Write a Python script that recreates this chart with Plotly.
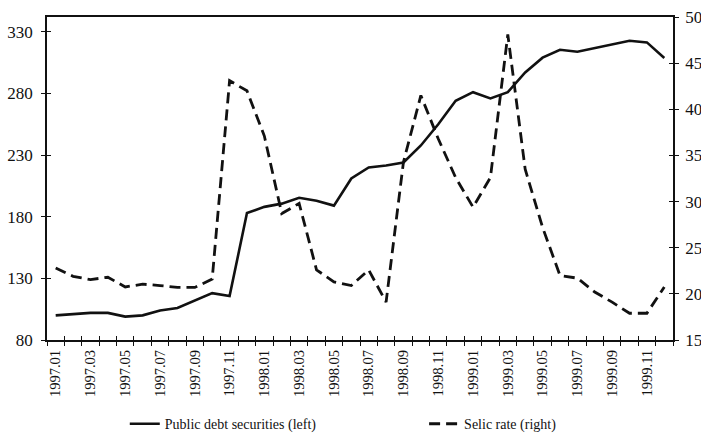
import plotly.graph_objects as go

months = [
    "1997.01", "1997.02", "1997.03", "1997.04", "1997.05", "1997.06",
    "1997.07", "1997.08", "1997.09", "1997.10", "1997.11", "1997.12",
    "1998.01", "1998.02", "1998.03", "1998.04", "1998.05", "1998.06",
    "1998.07", "1998.08", "1998.09", "1998.10", "1998.11", "1998.12",
    "1999.01", "1999.02", "1999.03", "1999.04", "1999.05", "1999.06",
    "1999.07", "1999.08", "1999.09", "1999.10", "1999.11", "1999.12",
]

public_debt = [
    100, 101, 102, 102, 99, 100, 104, 106, 112, 118, 115.6, 183,
    188, 190.6, 195.4, 193, 189, 211, 220, 221.6, 224, 237.8, 255, 274,
    281, 276, 281, 297, 309, 315.4, 313.8, 316.8, 319.5, 322.7, 321.4, 308.7,
]

selic_rate = [
    22.8, 21.9, 21.55, 21.8, 20.75, 21.05, 20.9, 20.7, 20.7, 21.6, 43.1, 42.0,
    37.1, 28.7, 29.8, 22.6, 21.3, 20.9, 22.6, 19.1, 34.3, 41.5, 36.8, 32.6,
    29.4, 32.6, 48.1, 33.5, 27.2, 22.0, 21.7, 20.2, 19.1, 17.9, 17.9, 20.75,
]

left_ticks = [80, 130, 180, 230, 280, 330]
right_ticks = [15, 20, 25, 30, 35, 40, 45, 50]

xpos = list(range(len(months)))
boundaries = [i - 0.5 for i in range(len(months) + 1)]
label_text = [m if i % 2 == 0 else "" for i, m in enumerate(months)]

ink = "#111111"
serif = "Liberation Serif"

fig = go.Figure()
fig.add_trace(go.Scatter(
    x=xpos, y=public_debt, mode="lines", name="Public debt securities (left)",
    line=dict(color=ink, width=2.6), xaxis="x", yaxis="y", legend="legend",
))
fig.add_trace(go.Scatter(
    x=xpos, y=selic_rate, mode="lines", name="Selic rate (right)",
    line=dict(color=ink, width=2.8, dash="11px,6px"), xaxis="x", yaxis="y2",
    legend="legend2",
))

# invisible helper traces so that the overlay tick axes get drawn
for xa, ya, yv in [("x2", "y", public_debt), ("x3", "y", public_debt),
                   ("x", "y3", public_debt), ("x", "y4", selic_rate)]:
    fig.add_trace(go.Scatter(x=xpos, y=yv, mode="lines", xaxis=xa, yaxis=ya,
                             line=dict(color="rgba(0,0,0,0)", width=0),
                             showlegend=False, hoverinfo="skip"))

xr = [-0.5, len(months) - 0.5]
common_axis = dict(showgrid=False, zeroline=False, tickcolor=ink, tickwidth=1.2,
                   linecolor=ink, automargin=False)

legend_common = dict(orientation="h", xref="container", yref="container",
                     xanchor="left", yanchor="middle", y=0.036,
                     font=dict(family=serif, size=14, color=ink),
                     bgcolor="rgba(0,0,0,0)")

fig.update_layout(
    width=701, height=440,
    margin=dict(l=47, r=28, t=17, b=100),
    paper_bgcolor="white", plot_bgcolor="white",
    font=dict(family=serif, color=ink, size=15),
    showlegend=True,
    legend=dict(**legend_common, x=0.178),
    legend2=dict(**legend_common, x=0.605),
    xaxis=dict(**common_axis, range=xr, tickmode="array", tickvals=boundaries,
               ticks="outside", ticklen=4,
               showline=True, linewidth=1.5, mirror=True, showticklabels=False),
    xaxis2=dict(**common_axis, range=xr, overlaying="x", anchor="y", side="bottom",
                tickmode="array", tickvals=boundaries, ticks="inside", ticklen=4,
                showticklabels=False, showline=False),
    xaxis3=dict(**common_axis, range=xr, overlaying="x", anchor="y", side="bottom",
                tickmode="array", tickvals=xpos, ticktext=label_text, ticks="",
                tickangle=-90, ticklabelstandoff=6,
                tickfont=dict(family=serif, size=14.5, color=ink),
                showline=False),
    yaxis=dict(**common_axis, range=[80, 342], tickmode="array", tickvals=left_ticks,
               ticks="outside", ticklen=4, showline=True, linewidth=1.5,
               ticklabelstandoff=5,
               tickfont=dict(family=serif, size=17, color=ink)),
    yaxis3=dict(**common_axis, range=[80, 342], overlaying="y", side="left", anchor="x",
                tickmode="array", tickvals=left_ticks, ticks="inside", ticklen=4,
                showticklabels=False, showline=False),
    yaxis2=dict(**common_axis, range=[15, 50], overlaying="y", side="right", anchor="x",
                tickmode="array", tickvals=right_ticks, ticks="outside", ticklen=4,
                showline=True, linewidth=1.5, ticklabelstandoff=3,
                tickfont=dict(family=serif, size=17, color=ink)),
    yaxis4=dict(**common_axis, range=[15, 50], overlaying="y", side="right", anchor="x",
                tickmode="array", tickvals=right_ticks, ticks="inside", ticklen=4,
                showticklabels=False, showline=False),
)

# remove the browser's default page margin so the figure sits at the window origin
fig.write_html(
    "out.html",
    config={"displayModeBar": False},
    post_script="document.body.style.margin='0';document.body.style.overflow='hidden';",
)
